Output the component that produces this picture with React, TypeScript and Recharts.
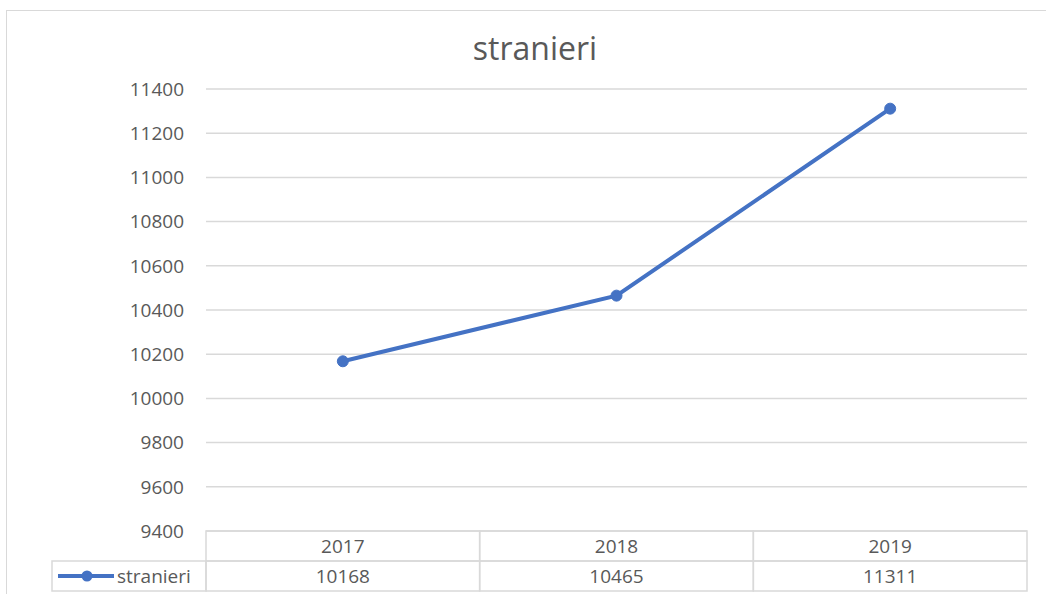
import React from "react";
import { LineChart, Line, XAxis, YAxis, CartesianGrid } from "recharts";

const years = ["2017", "2018", "2019"];
const stranieri = [10168, 10465, 11311];
const yTicks = [9400, 9600, 9800, 10000, 10200, 10400, 10600, 10800, 11000, 11200, 11400];
const seriesName = "stranieri";

const data = years.map((year, i) => ({ year, stranieri: stranieri[i] }));

const W = 1046;
const H = 594;
const PLOT_LEFT = 206;
const PLOT_RIGHT = 1027;
const PLOT_TOP = 89;
const PLOT_BOTTOM = 531;
const ROW_H = 30;
const BAND = (PLOT_RIGHT - PLOT_LEFT) / years.length;
const BLUE = "#4472C4";
const GRID = "#d9d9d9";
const TEXT = "#595959";
const FONT = "'Open Sans', sans-serif";

function TableTick(props: any) {
  const { x, payload, index } = props;
  const left = x - BAND / 2;
  const value = stranieri[index];
  return (
    <g>
      <rect x={left} y={PLOT_BOTTOM} width={BAND} height={ROW_H} fill="none" stroke={GRID} strokeWidth={1.5} />
      <rect x={left} y={PLOT_BOTTOM + ROW_H} width={BAND} height={ROW_H} fill="none" stroke={GRID} strokeWidth={1.5} />
      <text x={x} y={PLOT_BOTTOM + 22} textAnchor="middle" fill={TEXT} fontSize={19} fontFamily={FONT}>
        {payload.value}
      </text>
      <text x={x} y={PLOT_BOTTOM + ROW_H + 22} textAnchor="middle" fill={TEXT} fontSize={19} fontFamily={FONT}>
        {value}
      </text>
      {index === 0 && (
        <g>
          <rect x={52} y={PLOT_BOTTOM + ROW_H} width={PLOT_LEFT - 52} height={ROW_H} fill="none" stroke={GRID} strokeWidth={1.5} />
          <line x1={58} x2={114} y1={PLOT_BOTTOM + ROW_H + 15} y2={PLOT_BOTTOM + ROW_H + 15} stroke={BLUE} strokeWidth={4} />
          <circle cx={87} cy={PLOT_BOTTOM + ROW_H + 15} r={5.5} fill={BLUE} />
          <text x={117} y={PLOT_BOTTOM + ROW_H + 22} fill={TEXT} fontSize={19} fontFamily={FONT}>
            {seriesName}
          </text>
        </g>
      )}
    </g>
  );
}

export default function App() {
  return (
    <div style={{ position: "absolute", left: 0, top: 0, width: W, height: H, background: "#fff", overflow: "hidden" }}>
      <div
        style={{
          position: "absolute",
          left: 6,
          top: 10,
          width: W,
          height: H,
          borderLeft: `1.5px solid ${GRID}`,
          borderTop: `1.5px solid ${GRID}`,
        }}
      />
      <div
        style={{
          position: "absolute",
          left: 0,
          top: 26,
          width: 1070,
          textAlign: "center",
          fontFamily: FONT,
          fontSize: 32,
          color: TEXT,
        }}
      >
        stranieri
      </div>
      <div style={{ position: "absolute", left: 0, top: 0 }}>
        <LineChart
          width={W}
          height={H}
          data={data}
          margin={{ top: PLOT_TOP, right: W - PLOT_RIGHT, left: PLOT_LEFT - 80, bottom: 3 }}
        >
          <CartesianGrid vertical={false} stroke={GRID} strokeWidth={1.5} />
          <XAxis
            dataKey="year"
            axisLine={false}
            tickLine={false}
            tickSize={0}
            tickMargin={0}
            height={H - 3 - PLOT_BOTTOM}
            interval={0}
            padding={{ left: BAND / 2, right: BAND / 2 }}
            tick={<TableTick />}
          />
          <YAxis
            width={80}
            domain={[9400, 11400]}
            ticks={yTicks}
            axisLine={false}
            tickLine={false}
            tickSize={0}
            tickMargin={22}
            tick={{ fill: TEXT, fontSize: 19, fontFamily: FONT }}
          />
          <Line
            type="linear"
            dataKey="stranieri"
            stroke={BLUE}
            strokeWidth={4}
            dot={{ r: 5.5, fill: BLUE, stroke: BLUE, strokeWidth: 1 }}
            isAnimationActive={false}
          />
        </LineChart>
      </div>
    </div>
  );
}
